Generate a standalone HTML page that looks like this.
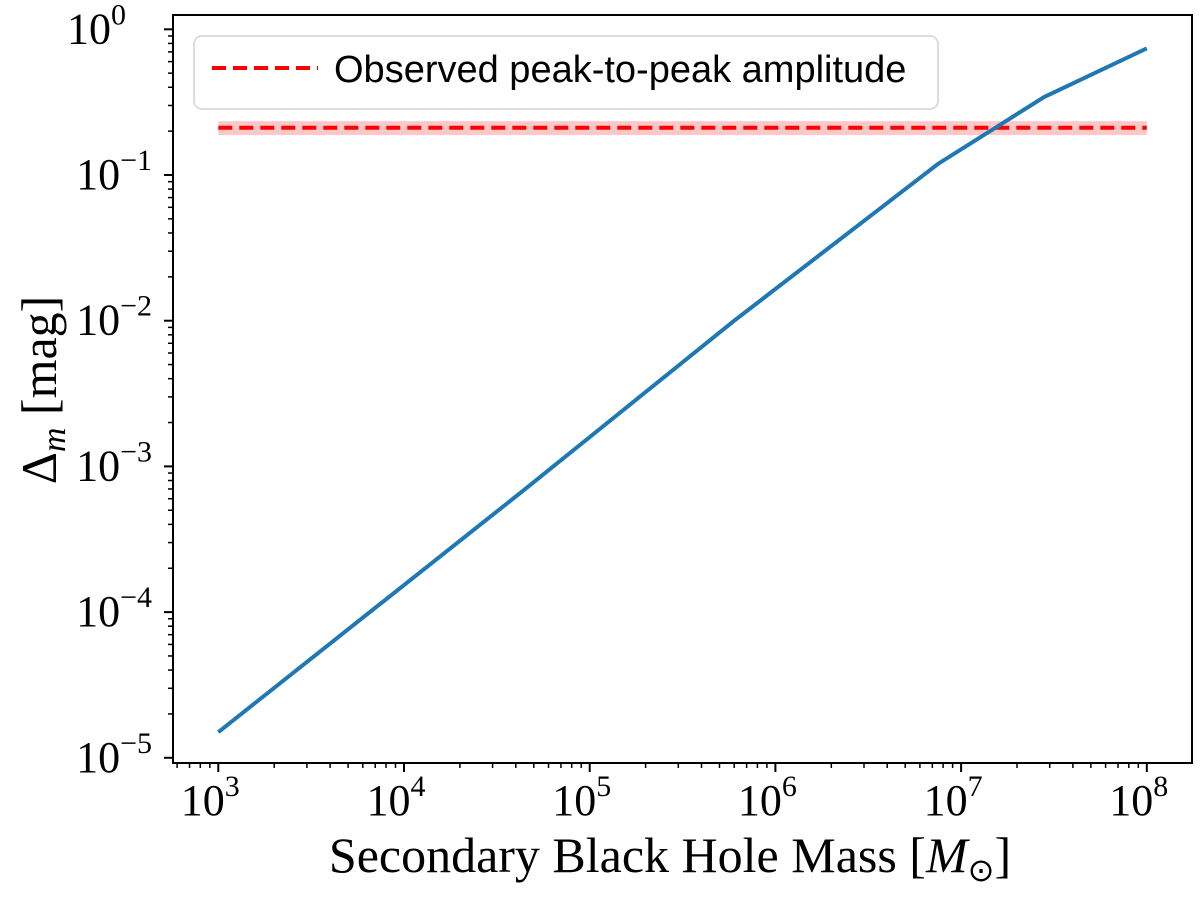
<!DOCTYPE html>
<html><head><meta charset="utf-8"><style>
html,body{margin:0;padding:0;background:#fff;}
svg text{font-family:"Liberation Serif",serif;fill:#000;}
</style></head><body>
<svg id="chart" width="1200" height="894" viewBox="0 0 1200 894" xmlns="http://www.w3.org/2000/svg">
<g id="grid"></g>
<g id="marks"></g>
<rect x="173" y="15" width="1019" height="748" fill="none" stroke="#000" stroke-width="2"/>
<g id="ticks"></g>
<g>
<rect x="194" y="36" width="744" height="73" rx="8" fill="#fff" fill-opacity="0.8" stroke="#ddd" stroke-width="2"/>
<line x1="212" y1="68" x2="318" y2="68" stroke="#ff0000" stroke-width="4" stroke-dasharray="14,7"/>
<text x="334" y="82" font-size="38" style="font-family:'Liberation Sans',sans-serif">Observed peak-to-peak amplitude</text>
</g>
<text x="670" y="872" font-size="50" text-anchor="middle">Secondary Black Hole Mass [<tspan font-style="italic">M</tspan><tspan font-size="32" dy="9">⊙</tspan><tspan dy="-9">]</tspan></text>
<text transform="translate(56,390) rotate(-90)" font-size="50" text-anchor="middle">Δ<tspan font-size="34" font-style="italic" dy="9">m</tspan><tspan dy="-9"> [mag]</tspan></text>
</svg>
<script>
const massX = [1e3, 4.5e4, 6e5, 7.5e6, 2.8e7, 1e8];
const deltaM = [1.5e-5, 7e-4, 1.0e-2, 0.119, 0.343, 0.74];
const observedAmp = [0.211];
const observedErr = [0.023];
const xTickExps = [3,4,5,6,7,8];
const yTickExps = [0,-1,-2,-3,-4,-5];

const NS="http://www.w3.org/2000/svg";
function xs(v){return 218.3+(Math.log10(v)-3)*185.7;}
function ys(v){return 29.3-Math.log10(v)*145.7;}
function mk(tag,attrs,parent){const e=document.createElementNS(NS,tag);for(const k in attrs)e.setAttribute(k,attrs[k]);parent.appendChild(e);return e;}
const marks=document.getElementById('marks'), ticks=document.getElementById('ticks');

const band=mk('rect',{x:xs(massX[0]),y:ys(observedAmp[0]+observedErr[0]),width:xs(massX[massX.length-1])-xs(massX[0]),height:ys(observedAmp[0]-observedErr[0])-ys(observedAmp[0]+observedErr[0]),fill:'#ffc8c8'},marks);


const obs=mk('line',{x1:xs(massX[0]),x2:xs(massX[massX.length-1]),y1:ys(observedAmp[0]),y2:ys(observedAmp[0]),stroke:'#ff0000','stroke-width':4,'stroke-dasharray':'14,7'},marks);


const line=mk('polyline',{points:massX.map((m,i)=>xs(m)+','+ys(deltaM[i])).join(' '),fill:'none',stroke:'#1f77b4','stroke-width':4},marks);



for(let e=2;e<=8;e++){
  for(let k=1;k<10;k++){
    const v=k*Math.pow(10,e), x=xs(v);
    if(x<174||x>1191)continue;
    mk('line',{x1:x,x2:x,y1:763,y2:k===1?772:768,stroke:'#000','stroke-width':k===1?2:1.5},ticks);
  }
}
xTickExps.forEach(e=>{
  const t=mk('text',{x:xs(Math.pow(10,e))-8,y:815,'font-size':44,'text-anchor':'middle'},ticks);
  t.textContent='10';
  
  
  const s=mk('tspan',{'font-size':30,dy:-19},t); s.textContent=e;
});
for(let e=-6;e<=0;e++){
  for(let k=1;k<10;k++){
    const v=k*Math.pow(10,e), y=ys(v);
    if(y<16||y>762)continue;
    mk('line',{x1:173,x2:k===1?164:168,y1:y,y2:y,stroke:'#000','stroke-width':k===1?2:1.5},ticks);
  }
}
yTickExps.forEach(e=>{
  const t=mk('text',{x:e===0?126:152,y:ys(Math.pow(10,e))+14,'font-size':44,'text-anchor':'end'},ticks);
  t.textContent='10';
  
  
  const s=mk('tspan',{'font-size':30,dy:-19},t); s.textContent=e===0?'0':'−'+(-e);
});
</script>
</body></html>
